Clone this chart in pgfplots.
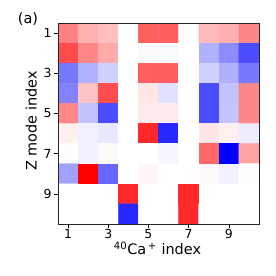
\documentclass[border=0pt]{standalone}
\usepackage{fontspec}
\setmainfont{DejaVu Sans}
\usepackage{pgfplots}
\pgfplotsset{compat=1.18}
\begin{document}
\begin{tikzpicture}[x=1bp,y=1bp]
\begin{axis}[
  at={(0,0)}, anchor=south west,
  scale only axis, width=201bp, height=201bp,
  xmin=0.5, xmax=10.5, ymin=0.5, ymax=10.5,
  y dir=reverse,
  xtick={1,3,5,7,9}, ytick={1,3,5,7,9},
  tick align=outside, major tick length=3.5bp,
  tick style={black, line width=0.6pt},
  xtick pos=bottom, ytick pos=left,
  axis line style={line width=0.6pt, black!85},
  /pgf/number format/assume math mode=true,
  ticklabel style={font=\fontsize{12.5}{14}\selectfont},
  xticklabel style={yshift=1.5bp},
  yticklabel style={xshift=0.5bp},
  colormap={bwr}{rgb255=(0,0,255) rgb255=(255,255,255) rgb255=(255,0,0)},
  point meta min=-1, point meta max=1,
  axis on top,
]
\addplot[matrix plot*, mesh/cols=10, point meta=explicit, draw=none] table[meta=c] {
x y c
1 1 0.49
2 1 0.31
3 1 0.25
4 1 0
5 1 0.63
6 1 0.63
7 1 0
8 1 0.27
9 1 0.31
10 1 0.47
1 2 0.70
2 2 0.47
3 2 0.33
4 2 0
5 2 0.02
6 2 -0.02
7 2 0
8 2 -0.31
9 2 -0.45
10 2 -0.70
1 3 -0.53
2 3 -0.31
3 3 -0.18
4 3 0
5 3 0.63
6 3 0.63
7 3 0
8 3 -0.18
9 3 -0.31
10 3 -0.53
1 4 -0.49
2 4 0.24
3 4 0.70
4 4 0
5 4 0.10
6 4 -0.12
7 4 0
8 4 -0.70
9 4 -0.24
10 4 0.47
1 5 0.47
2 5 -0.24
3 5 -0.70
4 5 0
5 5 0.08
6 5 0.08
7 5 0
8 5 -0.70
9 5 -0.23
10 5 0.47
1 6 0.06
2 6 -0.06
3 6 -0.09
4 6 0
5 6 0.84
6 6 -0.84
7 6 0
8 6 0.10
9 6 0.06
10 6 -0.07
1 7 0.01
2 7 -0.05
3 7 0.02
4 7 0
5 7 0
6 7 -0.03
7 7 0
8 7 0.59
9 7 -1.0
10 7 0.37
1 8 -0.37
2 8 1.0
3 8 -0.59
4 8 0
5 8 0.03
6 8 0
7 8 0
8 8 0.02
9 8 -0.05
10 8 0.01
1 9 0
2 9 0
3 9 0
4 9 0.84
5 9 0
6 9 0
7 9 0.84
8 9 0
9 9 0
10 9 0
1 10 0
2 10 0
3 10 0
4 10 -0.84
5 10 0
6 10 0
7 10 0.84
8 10 0
9 10 0
10 10 0
};
\end{axis}
\node[font=\fontsize{14.5}{16}\selectfont, anchor=base, inner sep=0pt] at (99.5bp,-31bp) {\textsuperscript{40}Ca\textsuperscript{\,+}\ index};
\node[font=\fontsize{14.5}{16}\selectfont, anchor=base, rotate=90, inner sep=0pt] at (-21.3bp,103bp) {Z mode index};
\node[font=\fontsize{14.5}{16}\selectfont, anchor=base, inner sep=0pt] at (-30bp,200bp) {(a)};
\path[use as bounding box] (-58bp,-52bp) rectangle (218bp,224bp);
\end{tikzpicture}
\end{document}
